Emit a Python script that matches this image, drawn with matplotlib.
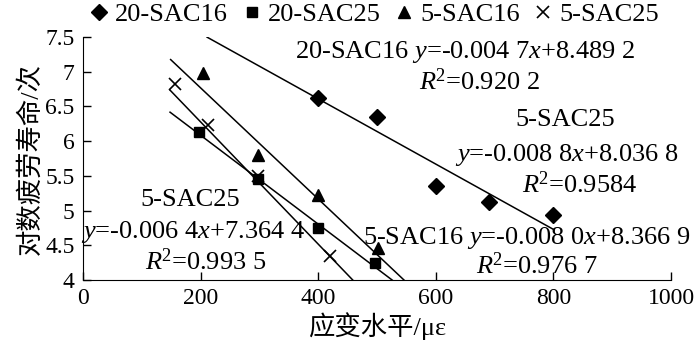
import matplotlib
matplotlib.use('Agg')
import matplotlib.pyplot as plt
import numpy as np

plt.rcParams['font.family'] = ['Liberation Serif', 'Noto Sans CJK SC']
plt.rcParams['mathtext.fontset'] = 'custom'
plt.rcParams['mathtext.rm'] = 'Liberation Serif'
plt.rcParams['mathtext.it'] = 'Liberation Serif:italic'

# measured points (strain level, log fatigue life)
x_20sac16 = [400, 500, 600, 690, 800]
y_20sac16 = [6.62, 6.35, 5.35, 5.12, 4.93]
x_20sac25 = [197, 297, 400, 497]
y_20sac25 = [6.13, 5.45, 4.75, 4.25]
x_5sac16 = [204, 298, 400, 502]
y_5sac16 = [6.98, 5.80, 5.22, 4.46]
x_5sac25 = [156, 213, 297, 420]
y_5sac25 = [6.83, 6.23, 5.50, 4.35]

# fitted lines: slope, intercept, x range
fit_20sac16 = (-0.0047, 8.4892, 211, 800)
fit_20sac25 = (-0.0064, 7.3644, 148, 530)
fit_5sac16 = (-0.0080, 8.3669, 149, 550)
fit_5sac25 = (-0.0088, 8.0368, 148, 460)

fig = plt.figure(figsize=(7, 3.52), dpi=100)
ax = fig.add_axes([0.1186, 0.2045, 0.84, 0.6904])

fs = 17
fa = 19
ax.plot(x_20sac16, y_20sac16, 'D', color='black', ms=8, label='20-SAC16', clip_on=False)
ax.plot(x_20sac25, y_20sac25, 's', color='black', ms=7.5, label='20-SAC25', clip_on=False)
ax.plot(x_5sac16, y_5sac16, '^', color='black', ms=9, label='5-SAC16', clip_on=False)
ax.plot(x_5sac25, y_5sac25, 'x', color='black', ms=9, mew=1.2, label='5-SAC25', clip_on=False)

for k, b, x0, x1 in [fit_20sac16, fit_20sac25, fit_5sac16, fit_5sac25]:
    xs = np.array([x0, x1])
    ax.plot(xs, k * xs + b, color='black', lw=1.1)

ax.set_xlim(0, 1000)
ax.set_ylim(4, 7.5)
ax.set_xticks([0, 200, 400, 600, 800, 1000])
ax.set_yticks([4, 4.5, 5, 5.5, 6, 6.5, 7, 7.5])
ax.set_yticklabels(['4', '4.5', '5', '5.5', '6', '6.5', '7', '7.5'])
ax.tick_params(direction='in', length=6, width=1, labelsize=fs, pad=6)
for s in ['top', 'right']:
    ax.spines[s].set_visible(False)

ax.set_xlabel('应变水平/με', fontsize=fa, labelpad=2)
ax.set_ylabel('对数疲劳寿命/次', fontsize=fa, labelpad=2)

tk = dict(fontsize=fa, ha='center', va='center')
ax.text(650, 7.28, '20-SAC16 $y$=-0.004 7$x$+8.489 2', **tk)
ax.text(675, 6.85, '$R$$^2$=0.920 2', **tk)
ax.text(820, 6.30, '5-SAC25', **tk)
ax.text(823, 5.80, '$y$=-0.008 8$x$+8.036 8', **tk)
ax.text(845, 5.37, '$R$$^2$=0.9584', **tk)
ax.text(755, 4.60, '5-SAC16 $y$=-0.008 0$x$+8.366 9', **tk)
ax.text(772, 4.21, '$R$$^2$=0.976 7', **tk)
ax.text(182, 5.15, '5-SAC25', **tk)
ax.text(187, 4.69, '$y$=-0.006 4$x$+7.364 4', **tk)
ax.text(209, 4.26, '$R$$^2$=0.993 5', **tk)

fig.legend(loc='upper center', bbox_to_anchor=(0.532, 1.06), ncol=4, frameon=False,
           fontsize=fa, handletextpad=0.1, columnspacing=0.4, handlelength=1.0)

fig.savefig('out.png', dpi=100)
